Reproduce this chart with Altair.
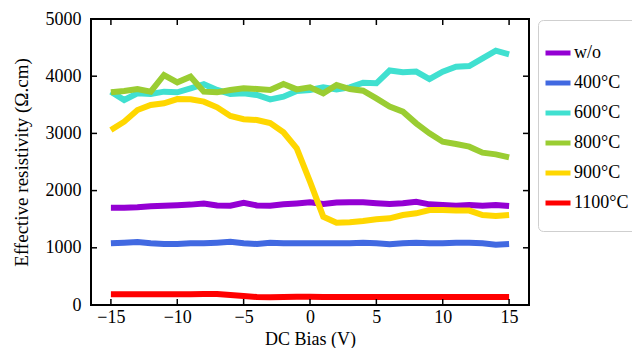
import altair as alt
import pandas as pd

bias = list(range(-15, 16))

series_names = ["w/o", "400°C", "600°C", "800°C", "900°C", "1100°C"]
series_colors = ["#9400D3", "#4169E1", "#40E0D0", "#9ACD32", "#FFD700", "#FF0000"]

wo = [1700, 1700, 1707, 1725, 1735, 1745, 1755, 1775, 1740, 1737, 1785, 1740, 1737, 1760, 1775, 1795,
      1765, 1790, 1795, 1795, 1780, 1766, 1778, 1805, 1760, 1748, 1737, 1748, 1737, 1748, 1731]
t400 = [1078, 1090, 1100, 1078, 1067, 1067, 1078, 1078, 1090, 1105, 1078, 1067, 1090, 1078, 1078, 1078,
        1078, 1078, 1078, 1090, 1078, 1061, 1078, 1090, 1078, 1078, 1090, 1090, 1078, 1055, 1067]
t600 = [3730, 3584, 3700, 3690, 3730, 3718, 3788, 3860, 3760, 3690, 3700, 3671, 3595, 3642, 3741, 3759,
        3805, 3770, 3805, 3887, 3876, 4100, 4070, 4080, 3951, 4080, 4167, 4178, 4312, 4446, 4383]
t800 = [3718, 3741, 3776, 3730, 4021, 3893, 3992, 3730, 3718, 3759, 3788, 3776, 3759, 3863, 3770, 3805,
        3700, 3846, 3776, 3747, 3613, 3470, 3380, 3176, 3001, 2855, 2815, 2768, 2663, 2634, 2582]
t900 = [3059, 3205, 3409, 3496, 3526, 3601, 3595, 3555, 3456, 3304, 3247, 3234, 3180, 3020, 2739, 2156,
        1544, 1440, 1445, 1468, 1498, 1515, 1573, 1603, 1661, 1661, 1650, 1650, 1573, 1556, 1573]
t1100 = [190, 190, 190, 190, 190, 190, 190, 192, 192, 175, 157, 140, 134, 140, 146, 146,
         142, 142, 142, 142, 142, 142, 142, 142, 142, 140, 140, 140, 140, 140, 140]

x_ticks = [-15, -10, -5, 0, 5, 10, 15]
y_ticks = [0, 1000, 2000, 3000, 4000, 5000]

all_series = [wo, t400, t600, t800, t900, t1100]
rows = []
for name, vals in zip(series_names, all_series):
    for b, v in zip(bias, vals):
        rows.append({"bias": b, "rho": v, "series": name})
df = pd.DataFrame(rows)

W, H = 438, 286
FONT = "Liberation Serif"

xscale = alt.Scale(domain=[-16.5, 16.5], nice=False, zero=False)
yscale = alt.Scale(domain=[0, 5000], nice=False)

lines = alt.Chart(df).mark_line(strokeWidth=6, strokeJoin="miter", clip=True).encode(
    x=alt.X("bias:Q", scale=xscale,
            axis=alt.Axis(values=x_ticks, format="d", title="DC Bias (V)", grid=False, domain=False,
                          ticks=False, labelPadding=3, titleBaseline="alphabetic", titleY=39,
                          titleFontSize=18)),
    y=alt.Y("rho:Q", scale=yscale,
            axis=alt.Axis(values=y_ticks, format="d", title="Effective resistivity (Ω.cm)", grid=False,
                          domain=False, ticks=False, labelPadding=10, titlePadding=14)),
    color=alt.Color("series:N",
                    scale=alt.Scale(domain=series_names, range=series_colors),
                    sort=series_names,
                    legend=alt.Legend(title=None, orient="none", legendX=447, legendY=1,
                                      symbolType="stroke", symbolSize=625, symbolStrokeWidth=5,
                                      labelFont=FONT, labelFontSize=18, labelColor="black",
                                      labelOffset=1, rowPadding=5, padding=18, symbolOffset=-13,
                                      strokeColor="#cfcfcf", cornerRadius=5, fillColor="white")),
)

xt = pd.DataFrame({"t": x_ticks})
yt = pd.DataFrame({"t": y_ticks})
tick_style = dict(color="black", strokeWidth=1.5)
xb = alt.Chart(xt).mark_rule(**tick_style).encode(x=alt.X("t:Q", scale=xscale), y=alt.value(H), y2=alt.value(H - 6))
xtop = alt.Chart(xt).mark_rule(**tick_style).encode(x=alt.X("t:Q", scale=xscale), y=alt.value(0), y2=alt.value(6))
yl = alt.Chart(yt).mark_rule(**tick_style).encode(y=alt.Y("t:Q", scale=yscale), x=alt.value(0), x2=alt.value(6))
yr = alt.Chart(yt).mark_rule(**tick_style).encode(y=alt.Y("t:Q", scale=yscale), x=alt.value(W), x2=alt.value(W - 6))

chart = alt.layer(lines, xb, xtop, yl, yr).properties(
    width=W, height=H,
    background="white",
    autosize=alt.AutoSizeParams(type="none"),
    padding={"left": 83, "top": 11, "right": 103, "bottom": 43},
).configure_view(stroke="black", strokeWidth=2).configure_axis(
    labelFont=FONT, labelFontSize=18, labelColor="black",
    titleFont=FONT, titleFontSize=19, titleColor="black", titleFontWeight="normal",
)

chart.save("out.html", embed_options={"renderer": "svg", "actions": False})
